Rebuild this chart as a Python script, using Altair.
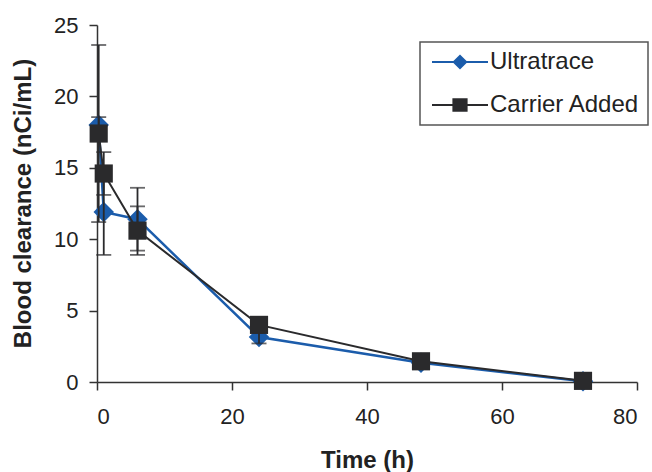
import altair as alt
import pandas as pd

# ---- data ----
times = [0.25, 1, 6, 24, 48, 72]
ultratrace = [18.0, 11.9, 11.4, 3.15, 1.35, 0.05]
ultratrace_err = [0.55, 3.0, 2.2, 0.45, 0.2, 0.05]
carrier = [17.4, 14.6, 10.6, 4.0, 1.45, 0.08]
carrier_err = [6.2, 1.5, 1.7, 0.3, 0.2, 0.05]
series_names = ["Ultratrace", "Carrier Added"]
x_ticks = [0, 20, 40, 60, 80]
y_ticks = [0, 5, 10, 15, 20, 25]

BLUE = "#1b5cab"
DARK = "#2a2a2c"
FONT = "Liberation Sans"

rows = []
for t, v, e in zip(times, ultratrace, ultratrace_err):
    rows.append({"time": t, "value": v, "err": e, "series": series_names[0]})
for t, v, e in zip(times, carrier, carrier_err):
    rows.append({"time": t, "value": v, "err": e, "series": series_names[1]})
df = pd.DataFrame(rows)

xs = alt.Scale(domain=[0, 80], nice=False)
ys = alt.Scale(domain=[0, 25], nice=False)

x_enc = alt.X("time:Q", scale=xs, title="Time (h)",
              axis=alt.Axis(values=x_ticks, titleY=78, titleBaseline="middle"))
y_enc = alt.Y("value:Q", scale=ys, title="Blood clearance (nCi/mL)",
              axis=alt.Axis(values=y_ticks, titleX=-74, titleY=178,
                            titleAngle=-90, titleAlign="center",
                            titleBaseline="middle"))

base = alt.Chart(df)

u_line = base.transform_filter(alt.datum.series == series_names[0]).mark_line(
    color=BLUE, strokeWidth=2.5).encode(x=x_enc, y=y_enc)
u_pts = base.transform_filter(alt.datum.series == series_names[0]).mark_point(
    shape="diamond", filled=True, color=BLUE, size=420, opacity=1).encode(x="time:Q", y="value:Q")

err_base = base.transform_calculate(
    lo="datum.value - datum.err", hi="datum.value + datum.err")
err_rule = err_base.mark_rule(color=DARK, strokeWidth=1.8).encode(
    x="time:Q", y="lo:Q", y2="hi:Q")
err_cap_lo = err_base.mark_tick(color=DARK, thickness=1.8, size=15, orient="horizontal").encode(
    x="time:Q", y="lo:Q")
err_cap_hi = err_base.mark_tick(color=DARK, thickness=1.8, size=15, orient="horizontal").encode(
    x="time:Q", y="hi:Q")

c_line = base.transform_filter(alt.datum.series == series_names[1]).mark_line(
    color=DARK, strokeWidth=2).encode(x="time:Q", y="value:Q")
c_pts = base.transform_filter(alt.datum.series == series_names[1]).mark_point(
    shape="square", filled=True, color=DARK, size=330, opacity=1).encode(x="time:Q", y="value:Q")

U_PATH = "M-1,-0.14H6V0.14H-1Z M2.5,-0.95L3.45,0L2.5,0.95L1.55,0Z"
C_PATH = "M-1,-0.14H6V0.14H-1Z M1.55,-0.85H3.45V0.85H1.55Z"

legend_layer = base.mark_point(filled=True, opacity=0).encode(
    x="time:Q", y="value:Q",
    color=alt.Color("series:N", scale=alt.Scale(domain=series_names, range=[BLUE, DARK]),
                    legend=alt.Legend(title=None, orient="none", legendX=323, legendY=17)),
    shape=alt.Shape("series:N", scale=alt.Scale(domain=series_names, range=[U_PATH, C_PATH]),
                    legend=alt.Legend(title=None, orient="none", legendX=323, legendY=17)),
)

chart = alt.layer(u_line, u_pts, err_rule, err_cap_lo, err_cap_hi, c_line, c_pts, legend_layer).properties(
    width=540, height=357,
    autosize=alt.AutoSizeParams(type="none"),
    padding={"left": 97, "top": 25, "right": 15, "bottom": 90},
    background="white",
).configure_view(stroke=None).configure_axis(
    grid=False, domainColor="#333", domainWidth=1.5, tickColor="#333", tickWidth=1.5,
    tickSize=8, labelFont=FONT, labelFontSize=22, labelColor="#222",
    titleFont=FONT, titleFontSize=24, titleFontWeight="bold", titleColor="#222",
).configure_axisX(labelPadding=16).configure_axisY(labelPadding=11).configure_legend(
    symbolSize=256, symbolStrokeWidth=0, symbolOpacity=1,
    labelFont=FONT, labelFontSize=24, labelColor="#222", labelOffset=38,
    padding=8, rowPadding=19, strokeColor="#555", strokeWidth=1.5, fillColor="white",
    cornerRadius=0,
)

chart.save("out.html", embed_options={"renderer": "svg", "actions": False})
